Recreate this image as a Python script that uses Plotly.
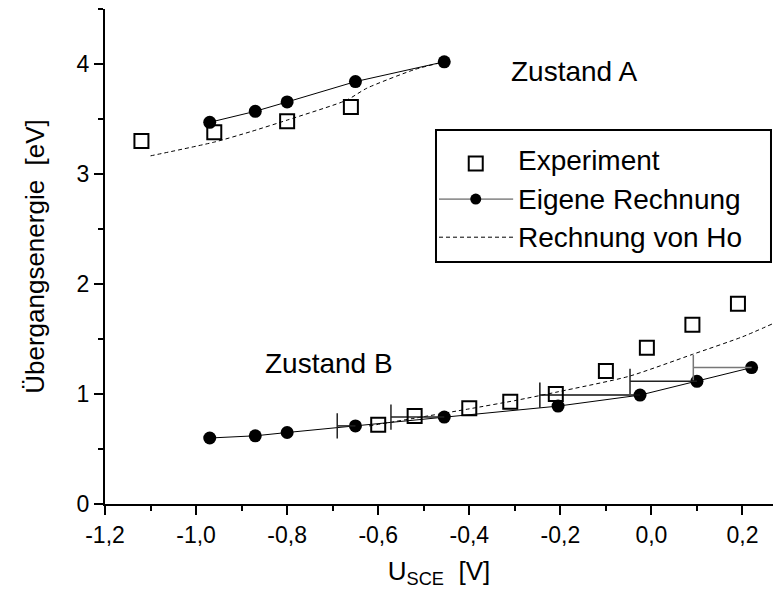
import plotly.graph_objects as go

# ---- Zustand A ----
a_exp_u = [-1.12, -0.96, -0.80, -0.66]
a_exp_e = [3.30, 3.38, 3.48, 3.61]
a_calc_u = [-0.97, -0.87, -0.80, -0.65, -0.455]
a_calc_e = [3.47, 3.57, 3.655, 3.84, 4.02]
a_ho_u = [-1.10, -0.96, -0.88, -0.80, -0.67, -0.625, -0.52, -0.455]
a_ho_e = [3.165, 3.29, 3.385, 3.49, 3.67, 3.78, 3.95, 4.02]

# ---- Zustand B ----
b_exp_u = [-0.60, -0.52, -0.40, -0.31, -0.21, -0.10, -0.01, 0.09, 0.19]
b_exp_e = [0.72, 0.80, 0.87, 0.93, 1.00, 1.21, 1.42, 1.63, 1.82]
b_calc_u = [-0.97, -0.87, -0.80, -0.65, -0.455, -0.205, -0.025, 0.10, 0.22]
b_calc_e = [0.60, 0.62, 0.65, 0.71, 0.79, 0.89, 0.99, 1.115, 1.24]
b_calc_err = [0, 0, 0, 0.04, 0.117, 0, 0.22, 0.147, 0.128]
b_ho_u = [-0.62, -0.52, -0.40, -0.30, -0.205, -0.05, 0.09, 0.20, 0.267]
b_ho_e = [0.71, 0.78, 0.865, 0.94, 1.02, 1.16, 1.36, 1.52, 1.64]

# ---- axis ticks ----
x_ticks = [-1.2, -1.0, -0.8, -0.6, -0.4, -0.2, 0.0, 0.2]
x_ticklabels = ["-1,2", "-1,0", "-0,8", "-0,6", "-0,4", "-0,2", "0,0", "0,2"]
y_ticks = [0, 1, 2, 3, 4]

FONT = "Liberation Sans, Arial, sans-serif"
BIG = 28
TITLE = 26
SQ = dict(symbol="square-open", size=14, color="black", line=dict(width=2, color="black"))
DOT = dict(symbol="circle", size=13, color="black")
HO_LINE = dict(color="black", width=1, dash="4px,3px")
CALC_LINE = dict(color="black", width=1)

fig = go.Figure()

# theory of Ho (dashed)
for u, e in ((a_ho_u, a_ho_e), (b_ho_u, b_ho_e)):
    fig.add_trace(go.Scatter(x=u, y=e, mode="lines", line=dict(HO_LINE, shape="spline", smoothing=0.6),
                             showlegend=False, hoverinfo="skip"))

# own calculation (solid + filled circles)
for u, e in ((a_calc_u, a_calc_e), (b_calc_u, b_calc_e)):
    fig.add_trace(go.Scatter(x=u, y=e, mode="lines+markers", line=CALC_LINE, marker=DOT,
                             showlegend=False))

# one-sided horizontal bars towards lower voltage
bar_colors = ["black", "black", "black", "#222222", "#222222", "black", "#111111", "#222222", "#777777"]
for u, e, d, c in zip(b_calc_u, b_calc_e, b_calc_err, bar_colors):
    if d <= 0:
        continue
    fig.add_trace(go.Scatter(x=[u - d, u], y=[e, e], mode="lines", line=dict(color=c, width=1.5),
                             showlegend=False, hoverinfo="skip"))
    fig.add_trace(go.Scatter(x=[u - d], y=[e], mode="markers",
                             marker=dict(symbol="line-ns", size=18, line=dict(width=1.5, color=c)),
                             showlegend=False, hoverinfo="skip"))

# experiment (open squares)
for u, e in ((a_exp_u, a_exp_e), (b_exp_u, b_exp_e)):
    fig.add_trace(go.Scatter(x=u, y=e, mode="markers", marker=SQ, showlegend=False))

# ---- legend box drawn on an overlay axis in paper units ----
leg_x0, leg_x1, leg_y0, leg_y1 = 0.4955, 0.997, 0.4889, 0.7556
key_x0, key_x1, key_mid = 0.50, 0.611, 0.555
rows = [0.694, 0.616, 0.539]
fig.add_trace(go.Scatter(x=[key_mid], y=[rows[0] - 0.006], mode="markers", xaxis="x2", yaxis="y2",
                         marker=SQ, showlegend=False, hoverinfo="skip"))
fig.add_trace(go.Scatter(x=[key_x0, key_x1], y=[rows[1], rows[1]], mode="lines", xaxis="x2", yaxis="y2",
                         line=dict(color="#444444", width=1), showlegend=False, hoverinfo="skip"))
fig.add_trace(go.Scatter(x=[key_mid], y=[rows[1]], mode="markers", xaxis="x2", yaxis="y2",
                         marker=dict(DOT, size=11), showlegend=False, hoverinfo="skip"))
fig.add_trace(go.Scatter(x=[key_x0, key_x1], y=[rows[2], rows[2]], mode="lines", xaxis="x2", yaxis="y2",
                         line=HO_LINE, showlegend=False, hoverinfo="skip"))

labels = ["Experiment", "Eigene Rechnung", "Rechnung von Ho"]
annotations = [
    dict(x=0.615, y=r, xref="paper", yref="paper", text=t, showarrow=False, xanchor="left",
         yanchor="middle", font=dict(size=BIG, color="black", family=FONT))
    for t, r in zip(labels, rows)
]
annotations += [
    dict(x=-0.312, y=3.93, xref="x", yref="y", text="Zustand A", showarrow=False, xanchor="left",
         yanchor="middle", font=dict(size=BIG, color="black", family=FONT)),
    dict(x=-0.853, y=1.28, xref="x", yref="y", text="Zustand B", showarrow=False, xanchor="left",
         yanchor="middle", font=dict(size=BIG, color="black", family=FONT)),
]

fig.update_layout(
    width=773, height=596,
    margin=dict(l=105, r=0, t=9, b=92),
    paper_bgcolor="white", plot_bgcolor="white",
    font=dict(family=FONT, color="black", size=22),
    separators=",.",
    showlegend=False,
    annotations=annotations,
    shapes=[dict(type="rect", xref="paper", yref="paper", x0=leg_x0, x1=leg_x1, y0=leg_y0, y1=leg_y1,
                 line=dict(color="black", width=2), fillcolor="rgba(0,0,0,0)", layer="below")],
    xaxis=dict(
        range=[-1.2, 0.267], showgrid=False, zeroline=False,
        showline=True, linecolor="black", linewidth=2,
        ticks="outside", ticklen=9, tickwidth=1.5, tickcolor="black",
        tickmode="array", tickvals=x_ticks, ticktext=x_ticklabels,
        tickfont=dict(size=23),
        minor=dict(tickmode="linear", tick0=-1.2, dtick=0.1, ticks="outside", ticklen=5,
                   tickwidth=1.5, tickcolor="black", showgrid=False),
        title=dict(text="U<sub>SCE</sub>  [V]", font=dict(size=TITLE), standoff=15),
    ),
    yaxis=dict(
        range=[0, 4.5], showgrid=False, zeroline=False,
        showline=True, linecolor="black", linewidth=2,
        ticks="outside", ticklen=9, tickwidth=1.5, tickcolor="black",
        tickmode="array", tickvals=y_ticks,
        tickfont=dict(size=23),
        minor=dict(tickmode="linear", tick0=0, dtick=0.5, ticks="outside", ticklen=5,
                   tickwidth=1.5, tickcolor="black", showgrid=False),
        title=dict(text="Übergangsenergie  [eV]", font=dict(size=TITLE), standoff=25),
    ),
    xaxis2=dict(overlaying="x", range=[0, 1], visible=False, fixedrange=True),
    yaxis2=dict(overlaying="y", range=[0, 1], visible=False, fixedrange=True),
)

fig.write_html("out.html")
